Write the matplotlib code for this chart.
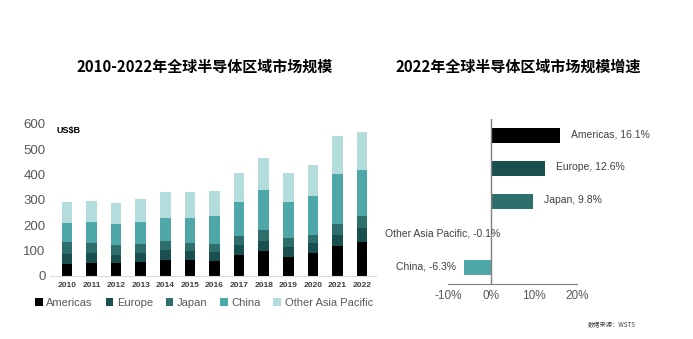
import numpy as np
import matplotlib.pyplot as plt
from matplotlib.patches import Patch

plt.rcParams['font.family'] = ['Liberation Sans', 'Noto Sans CJK SC', 'DejaVu Sans']

# left chart data (US$B)
years = ['2010', '2011', '2012', '2013', '2014', '2015', '2016',
         '2017', '2018', '2019', '2020', '2021', '2022']
americas = [48, 51, 50, 55, 65, 65, 61, 82, 97, 74, 90, 119, 135]
europe = [38, 38, 32, 35, 37, 32, 32, 39, 43, 41, 39, 44, 55]
japan = [49, 42, 41, 37, 35, 32, 32, 38, 42, 35, 34, 43, 47]
china = [74, 81, 82, 86, 92, 100, 110, 132, 159, 144, 154, 196, 182]
other_ap = [85, 83, 82, 90, 103, 103, 101, 117, 124, 114, 120, 151, 151]

region_names = ['Americas', 'Europe', 'Japan', 'China', 'Other Asia Pacific']
colors = ['#000000', '#1a4f50', '#2e6e6c', '#4ea7a9', '#b3dcdc']

# right chart data (2022 growth, %)
growth_regions = ['Americas', 'Europe', 'Japan', 'Other Asia Pacific', 'China']
growth = [16.1, 12.6, 9.8, -0.1, -6.3]
growth_colors = ['#000000', '#1a4f50', '#2e6e6c', '#b3dcdc', '#4ea7a9']

fig = plt.figure(figsize=(6.93, 3.39), dpi=100)
W, H = 693, 339
cjk = ['Noto Sans CJK SC', 'DejaVu Sans']

# ---- left: stacked bars
ax1 = fig.add_axes([49.8 / W, 1 - 276 / H, 325.7 / W, (276 - 124) / H])
x = np.arange(len(years))
bottom = np.zeros(len(years))
for vals, name, c in zip([americas, europe, japan, china, other_ap], region_names, colors):
    ax1.bar(x, vals, 0.43, bottom=bottom, color=c, label=name)
    bottom += np.array(vals)
ax1.set_xlim(-0.7, 12.55)
ax1.set_ylim(0, 600)
ax1.set_yticks(range(0, 601, 100))
ax1.set_xticks(x)
ax1.set_xticklabels(years, fontsize=6, fontweight='bold', color='#404040')
ax1.tick_params(axis='y', length=0, pad=3, labelsize=9.5, labelcolor='#595959')
ax1.tick_params(axis='x', length=0, pad=4)
for s in ['top', 'right', 'left']:
    ax1.spines[s].set_visible(False)
ax1.spines['bottom'].set_color('#d9d9d9')
ax1.text(0.02, 0.955, 'US$B', transform=ax1.transAxes, fontsize=6.5,
         fontweight='bold', va='center', ha='left')
handles = [Patch(facecolor=c) for c in colors]
fig.legend(handles, region_names, loc='center', bbox_to_anchor=(204 / W, 1 - 303 / H),
           ncol=5, frameon=False, fontsize=8, handlelength=0.7, handleheight=0.7,
           handletextpad=0.3, columnspacing=1.15, labelcolor='#595959')
fig.text(205 / W, 1 - 67 / H, '2010-2022年全球半导体区域市场规模', ha='center', va='center',
         fontsize=10.8, fontweight='bold', family=cjk)

# ---- right: growth bars
ax2 = fig.add_axes([448 / W, 1 - 284 / H, 129 / W, (284 - 119) / H])
y = np.arange(len(growth_regions))
ax2.barh(y, growth, 0.45, color=growth_colors)
ax2.set_ylim(len(growth_regions) - 0.5, -0.5)
ax2.set_xlim(-10, 20)
ax2.set_xticks([-10, 0, 10, 20])
ax2.set_xticklabels(['-10%', '0%', '10%', '20%'])
ax2.set_yticks([])
ax2.tick_params(axis='x', length=0, pad=4, labelsize=8.5, labelcolor='#595959')
for s in ['top', 'right', 'left']:
    ax2.spines[s].set_visible(False)
ax2.spines['bottom'].set_color('#808080')
ax2.axvline(0, color='#808080', lw=1)
for yi, (name, g) in enumerate(zip(growth_regions, growth)):
    label = f'{name}, {g}%'
    if g >= 0:
        ax2.annotate(label, (g, yi), xytext=(8, 1), textcoords='offset points',
                     ha='left', va='center', fontsize=7.5, color='#404040')
    else:
        ax2.annotate(label, (min(g, -0.1), yi), xytext=(-6 if g < -1 else 7, 1),
                     textcoords='offset points', ha='right', va='center',
                     fontsize=7.5, color='#404040')
fig.text(518 / W, 1 - 67 / H, '2022年全球半导体区域市场规模增速', ha='center', va='center',
         fontsize=10.8, fontweight='bold', family=cjk)

fig.text(588 / W, 1 - 325 / H, '数据来源：WSTS', ha='left', va='center', fontsize=4.5,
         color='#404040', family=cjk)

fig.savefig('out.png', dpi=100)
